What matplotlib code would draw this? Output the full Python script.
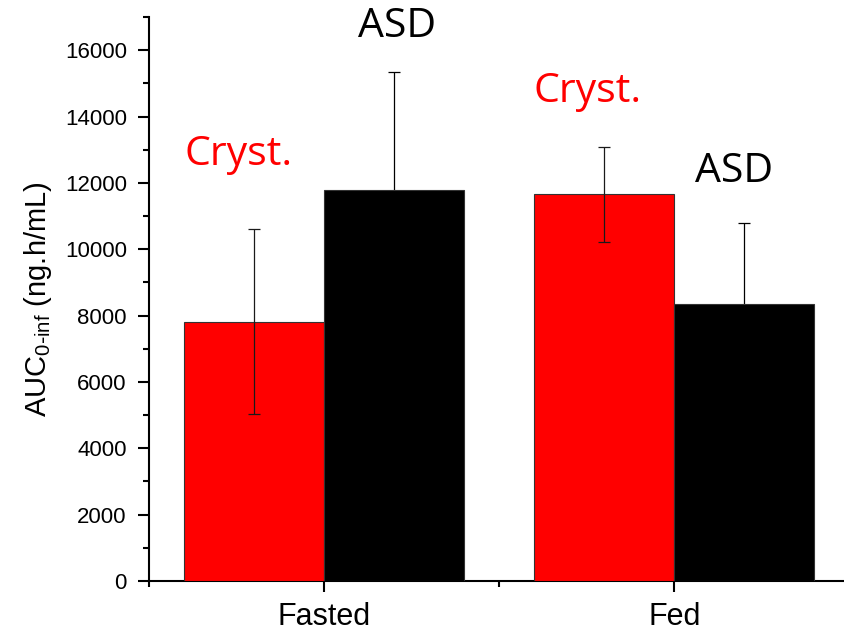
import matplotlib
matplotlib.use("Agg")
import matplotlib.pyplot as plt
import numpy as np
from matplotlib.ticker import MultipleLocator

plt.rcParams['font.family'] = ['Liberation Sans', 'DejaVu Sans']

# Data
conditions = ["Fasted", "Fed"]
cryst_mean = [7820, 11650]
cryst_sd = [2790, 1430]
asd_mean = [11800, 8350]
asd_sd = [3540, 2430]

bar_w = 0.4
x = np.arange(len(conditions))

fig = plt.figure(figsize=(8.45, 6.32), dpi=100)
ax = fig.add_axes([0.1763, 0.0807, 0.829, 0.8924])

err_kw = dict(ecolor="#1a1a1a", elinewidth=0.9, capsize=4, capthick=0.9, zorder=4)
ax.bar(x - bar_w / 2, cryst_mean, bar_w, yerr=cryst_sd, color="#FF0000",
       edgecolor="#333333", linewidth=0.8, error_kw=err_kw, zorder=3)
ax.bar(x + bar_w / 2, asd_mean, bar_w, yerr=asd_sd, color="#000000",
       edgecolor="#333333", linewidth=0.8,
       error_kw=dict(err_kw, ecolor="black", zorder=2), zorder=3)

ax.set_xlim(-0.5, 1.5)
ax.set_ylim(0, 17000)
ax.set_xticks(x)
ax.set_xticklabels(conditions, fontsize=22)
ax.xaxis.set_minor_locator(MultipleLocator(0.5))
ax.set_yticks(np.arange(0, 16001, 2000))
ax.yaxis.set_minor_locator(MultipleLocator(1000))
ax.tick_params(axis='y', labelsize=16, pad=8)
ax.tick_params(which='major', direction='out', length=8, width=1.5)
ax.tick_params(which='minor', direction='out', length=4, width=1.5)
ax.tick_params(axis='x', which='major', pad=7)

for side in ["top", "right"]:
    ax.spines[side].set_visible(False)
for side in ["left", "bottom"]:
    ax.spines[side].set_linewidth(1.5)

ax.set_ylabel(r"AUC$_{\mathregular{0\text{-}inf}}$ (ng.h/mL)", fontsize=21, labelpad=8)

# Group labels above the bars
label_font = dict(family=["Open Sans", "DejaVu Sans"], fontsize=29.5, ha="center", va="baseline")
ax.text(-0.245, 12530, "Cryst.", color="#FF0000", **label_font)
ax.text(0.208, 16390, "ASD", color="black", **label_font)
ax.text(0.752, 14430, "Cryst.", color="#FF0000", **label_font)
ax.text(1.171, 12020, "ASD", color="black", **label_font)

fig.savefig("out.png", dpi=100)
